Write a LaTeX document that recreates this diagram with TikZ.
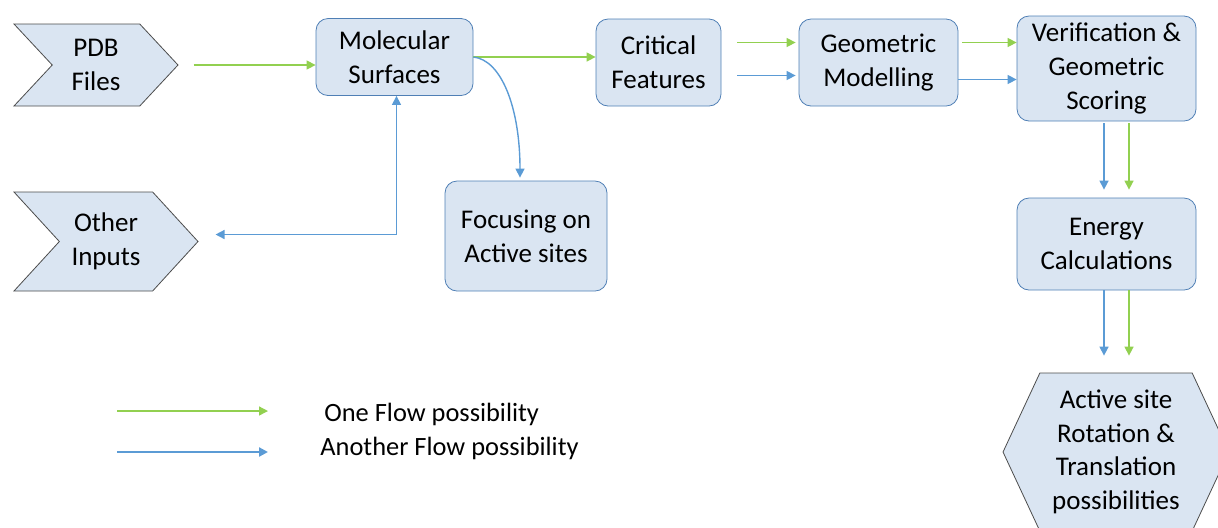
\documentclass[tikz,border=0pt]{standalone}
\usepackage{fontspec}
\setmainfont{Carlito}
\usetikzlibrary{positioning,shapes.symbols,arrows.meta}
\definecolor{boxfill}{HTML}{DAE5F2}
\definecolor{boxline}{HTML}{4F7FB5}
\definecolor{flowgreen}{HTML}{92D050}
\definecolor{flowblue}{HTML}{5B9BD5}
\tikzset{
  box/.style={draw=boxline, fill=boxfill, rounded corners=6pt, align=center,
    inner sep=1pt, font=\fontsize{13.5}{16.8}\selectfont},
  inbox/.style={signal, signal from=west, signal to=east, draw=black!70,
    fill=boxfill, align=center, inner sep=1pt, font=\fontsize{13.5}{16.8}\selectfont},
  greenflow/.style={draw=flowgreen, line width=0.7pt, -{Triangle[length=4.5pt,width=4.5pt]}},
  blueflow/.style={draw=flowblue, line width=0.7pt, -{Triangle[length=4.5pt,width=4.5pt]}},
  legend/.style={anchor=west, inner sep=0pt, font=\fontsize{13.2}{16}\selectfont}
}
\begin{document}
\begin{tikzpicture}[x=0.5pt, y=-0.5pt]
  \clip (0,0) rectangle (1218,527);
  % inputs
  \node[inbox, signal pointer angle=94, minimum width=82pt, minimum height=41pt] (pdb) at (96,65) {PDB\\Files};
  \node[inbox, signal pointer angle=95, minimum width=92pt, minimum height=49.5pt] (other) at (106,241.5) {Other\\Inputs};
  % main steps
  \node[box, minimum width=78.5pt, minimum height=38.5pt] (mol) at (394.5,57) {Molecular\\Surfaces};
  \node[box, minimum width=81pt, minimum height=55pt] (foc) at (526,236) {Focusing on\\Active sites};
  \node[box, minimum width=62.5pt, minimum height=43.5pt] (crit) at (658.5,62.5) {Critical\\Features};
  \node[box, minimum width=79.5pt, minimum height=43.5pt] (geo) at (878.5,62.5) {Geometric\\Modelling};
  \node[box, minimum width=89.5pt, minimum height=52.5pt] (ver) at (1106.5,68.5) {Verification \&\\Geometric\\Scoring};
  \node[box, minimum width=89.5pt, minimum height=46pt] (ene) at (1106.5,244) {Energy\\Calculations};
  \node[inbox, signal to=west and east, signal pointer angle=130, minimum width=113pt, minimum height=79pt] (hex) at (1116,452) {Active site\\Rotation \&\\Translation\\possibilities};

  % flows
  \draw[greenflow, shorten <=7.5pt] (pdb.east) -- (pdb.east -| mol.west);
  \draw[greenflow] (mol.east) -- (mol.east -| crit.west);
  \draw[blueflow] (mol.east) .. controls +(28,3) and +(0,-70) .. ([xshift=-3pt,yshift=1.5pt]foc.north);
  \draw[blueflow, {Triangle[length=4.5pt,width=4.5pt]}-{Triangle[length=4.5pt,width=4.5pt]}, shorten <=8.5pt] ([yshift=3.5pt]other.east) -| ([xshift=1pt]mol.south);
  \draw[greenflow, shorten <=8pt, shorten >=1.5pt] ([yshift=10pt]crit.east) -- ([yshift=10pt]crit.east -| geo.west);
  \draw[blueflow, shorten <=8pt, shorten >=1.5pt] ([yshift=-6.5pt]crit.east) -- ([yshift=-6.5pt]crit.east -| geo.west);
  \draw[greenflow, shorten <=2pt] ([yshift=10pt]geo.east) -- ([yshift=10pt]geo.east -| ver.west);
  \draw[blueflow] ([yshift=-8.5pt]geo.east) -- ([yshift=-8.5pt]geo.east -| ver.west);
  \draw[blueflow, shorten <=1pt, shorten >=4pt] ([xshift=-1.25pt]ver.south) -- ([xshift=-1.25pt]ene.north);
  \draw[greenflow, shorten <=1pt, shorten >=4pt] ([xshift=11.25pt]ver.south) -- ([xshift=11.25pt]ene.north);
  \draw[blueflow, shorten >=8.5pt] ([xshift=-1.25pt]ene.south) -- ([xshift=-1.25pt]ene.south |- hex.north);
  \draw[greenflow, shorten >=8.5pt] ([xshift=11.25pt]ene.south) -- ([xshift=11.25pt]ene.south |- hex.north);

  % legend
  \coordinate (g1) at (117,411);
  \coordinate (g2) at (268,411);
  \coordinate (b1) at (117,452);
  \coordinate (b2) at (268,452);
  \draw[greenflow] (g1) -- (g2);
  \draw[blueflow, line width=1.2pt] (b1) -- (b2);
  \node[legend] (one) at (324,414) {One Flow possibility};
  \node[legend] (another) at (320,448) {Another Flow possibility};
\end{tikzpicture}
\end{document}
